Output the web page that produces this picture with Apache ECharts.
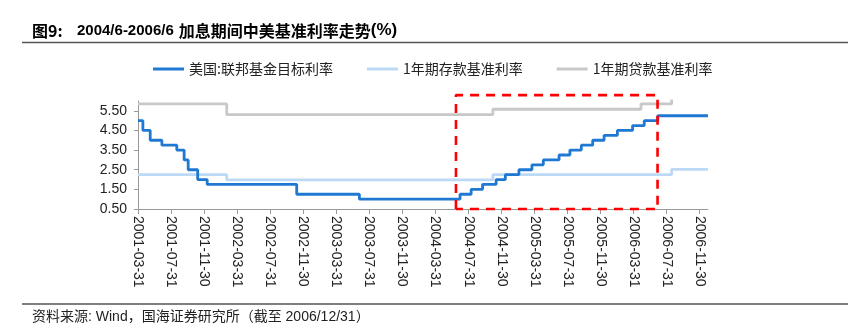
<!DOCTYPE html>
<html><head><meta charset="utf-8">
<script src="https://cdn.jsdelivr.net/npm/echarts@6/dist/echarts.min.js"></script>
<style>html,body{margin:0;padding:0;background:#fff}#c{width:859px;height:328px}</style>
</head><body><div id="c"></div>
<script>
// ---- data ----
const seriesNames = ['美国:联邦基金目标利率', '1年期存款基准利率', '1年期贷款基准利率'];
const fedDates = ['2001-03-31','2001-04-18','2001-05-15','2001-06-27','2001-08-21','2001-09-17','2001-10-02','2001-11-06','2001-12-11','2002-11-06','2003-06-25','2004-06-30','2004-08-10','2004-09-21','2004-11-10','2004-12-14','2005-02-02','2005-03-22','2005-05-03','2005-06-30','2005-08-09','2005-09-20','2005-11-01','2005-12-13','2006-01-31','2006-03-28','2006-05-10','2006-06-29','2006-12-31'];
const fedRates = [5.00,4.50,4.00,3.75,3.50,3.00,2.50,2.00,1.75,1.25,1.00,1.25,1.50,1.75,2.00,2.25,2.50,2.75,3.00,3.25,3.50,3.75,4.00,4.25,4.50,4.75,5.00,5.25,5.25];
const depDates = ['2001-03-31','2002-02-21','2004-10-29','2006-08-19','2006-12-31'];
const depRates = [2.25,1.98,2.25,2.52,2.52];
const loanDates = ['2001-03-31','2002-02-21','2004-10-29','2006-04-28','2006-08-19'];
const loanRates = [5.85,5.31,5.58,5.85,6.12];
const xTickLabels = ['2001-03-31','2001-07-31','2001-11-30','2002-03-31','2002-07-31','2002-11-30','2003-03-31','2003-07-31','2003-11-30','2004-03-31','2004-07-31','2004-11-30','2005-03-31','2005-07-31','2005-11-30','2006-03-31','2006-07-31','2006-11-30'];
const yTicks = [0.5, 1.5, 2.5, 3.5, 4.5, 5.5];
const xRange = ['2001-03-31', '2006-12-31'];
const yRange = [0.5, 6.0];
const boxDates = ['2004-06-15', '2006-06-28'];
const boxRates = [0.5, 6.3];
const titleParts = ['图9:', '2004/6-2006/6', '加息期间中美基准利率走势', '(%)'];
const sourceText = '资料来源: Wind，国海证券研究所（截至 2006/12/31）';

// ---- helpers ----
const ts = s => { const p = s.split('-').map(Number); return Date.UTC(p[0], p[1] - 1, p[2]); };
const fmtDate = v => new Date(v).toISOString().slice(0, 10);
const pairs = (ds, vs) => ds.map((d, i) => [ts(d), vs[i]]);
const boxPts = [
  [ts(boxDates[0]), boxRates[0]], [ts(boxDates[0]), boxRates[1]],
  [ts(boxDates[1]), boxRates[1]], [ts(boxDates[1]), boxRates[0]],
  [ts(boxDates[0]), boxRates[0]]
];
const colors = ['#1f78d1', '#bcd9f5', '#c8c8c8'];
const latin = '"Liberation Sans", Arial, "Noto Sans CJK SC", sans-serif';
const cjk = '"Noto Sans CJK SC", "Liberation Sans", sans-serif';

const chart = echarts.init(document.getElementById('c'), null, {renderer: 'canvas'});
chart.setOption({
  animation: false,
  backgroundColor: '#fff',
  title: [
    {text: '{a|' + titleParts[0] + '}{b|' + titleParts[1] + '}{c|' + titleParts[2] + '}{d|' + titleParts[3] + '}',
     left: 27, top: 17,
     textStyle: {fontSize: 15, fontWeight: 'bold', color: '#000', fontFamily: latin,
       rich: {
         a: {fontSize: 16, fontWeight: 'bold', fontFamily: cjk, color: '#000', width: 45},
         b: {fontSize: 15, fontWeight: 'bold', fontFamily: latin, color: '#000', padding: [0, 5, 0, 0]},
         c: {fontSize: 16, fontWeight: 'bold', fontFamily: cjk, color: '#000', letterSpacing: 0.3},
         d: {fontSize: 17, fontWeight: 'bold', fontFamily: latin, color: '#000'}
       }}},
    {text: sourceText, left: 27, top: 305,
     textStyle: {fontSize: 14, fontWeight: 'normal', color: '#222', fontFamily: latin}}
  ],
  graphic: [
    {type: 'line', shape: {x1: 22, y1: 42.5, x2: 848, y2: 42.5}, style: {stroke: '#555', lineWidth: 1.5}},
    {type: 'line', shape: {x1: 22, y1: 304, x2: 848, y2: 304}, style: {stroke: '#555', lineWidth: 1.5}}
  ],
  legend: {
    data: seriesNames, left: 148, top: 57, icon: 'rect', itemWidth: 31, itemHeight: 3, itemGap: 34,
    textStyle: {fontSize: 14, color: '#222', fontFamily: cjk}
  },
  grid: {left: 138, right: 151, top: 101, bottom: 119, outerBoundsMode: 'none'},
  xAxis: {
    type: 'value', min: ts(xRange[0]), max: ts(xRange[1]),
    splitLine: {show: false},
    axisLine: {lineStyle: {color: '#999', width: 1}},
    axisTick: {show: true, length: 5, lineStyle: {color: '#999'}, customValues: xTickLabels.map(ts)},
    axisLabel: {rotate: -90, margin: 7, fontSize: 14, color: '#222', fontFamily: latin,
      customValues: xTickLabels.map(ts), formatter: v => fmtDate(v)}
  },
  yAxis: {
    type: 'value', min: yRange[0], max: yRange[1],
    splitLine: {show: false},
    axisLine: {show: true, lineStyle: {color: '#999', width: 1}},
    axisTick: {show: true, length: 4, lineStyle: {color: '#999'}, customValues: yTicks},
    axisLabel: {margin: 11, fontSize: 14, color: '#222', fontFamily: latin,
      customValues: yTicks, formatter: v => v.toFixed(2)}
  },
  series: [
    {name: seriesNames[0], type: 'line', step: 'end', symbol: 'none', data: pairs(fedDates, fedRates),
     lineStyle: {color: colors[0], width: 2.8}, itemStyle: {color: colors[0]}, z: 4},
    {name: seriesNames[1], type: 'line', step: 'end', symbol: 'none', data: pairs(depDates, depRates),
     lineStyle: {color: colors[1], width: 2.8}, itemStyle: {color: colors[1]}, z: 3},
    {name: seriesNames[2], type: 'line', step: 'end', symbol: 'none', data: pairs(loanDates, loanRates),
     lineStyle: {color: colors[2], width: 2.8}, itemStyle: {color: colors[2]}, z: 3},
    {name: 'box', type: 'line', symbol: 'none', clip: false, silent: true, data: boxPts,
     lineStyle: {color: '#ff0000', width: 2.6, type: [9, 7]}, z: 6}
  ]
});
</script></body></html>
